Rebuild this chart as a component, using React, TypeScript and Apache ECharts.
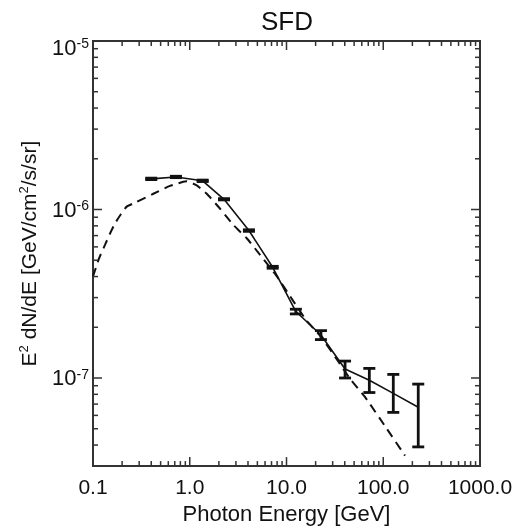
import React, { useEffect, useRef } from 'react';
import * as echarts from 'echarts';

// Measured data points (Photon Energy [GeV], E^2 dN/dE)
const energy = [0.40, 0.72, 1.36, 2.26, 4.09, 7.2, 12.5, 22.7, 40.3, 71.8, 127, 230];
const flux = [1.52e-6, 1.56e-6, 1.48e-6, 1.15e-6, 7.5e-7, 4.54e-7, 2.48e-7, 1.80e-7, 1.13e-7, 9.7e-8, 8.1e-8, 6.7e-8];
const fluxLo = [1.505e-6, 1.545e-6, 1.465e-6, 1.14e-6, 7.42e-7, 4.48e-7, 2.40e-7, 1.69e-7, 1.0e-7, 8.2e-8, 6.25e-8, 3.9e-8];
const fluxHi = [1.535e-6, 1.575e-6, 1.495e-6, 1.16e-6, 7.58e-7, 4.60e-7, 2.56e-7, 1.91e-7, 1.26e-7, 1.14e-7, 1.05e-7, 9.2e-8];

// Dashed model curve
const modelEnergy = [0.1, 0.115, 0.133, 0.15, 0.169, 0.195, 0.223, 0.283, 0.42, 0.625, 0.857, 0.93, 1.18, 1.5, 2.06, 2.82, 3.88, 5.33, 7.92, 11.76, 16.2, 22.7, 35.7, 45.3, 64.7, 108, 168];
const modelFlux = [4.0e-7, 5.1e-7, 6.16e-7, 7.2e-7, 8.28e-7, 9.4e-7, 1.04e-6, 1.11e-6, 1.24e-6, 1.38e-6, 1.46e-6, 1.47e-6, 1.39e-6, 1.24e-6, 1.01e-6, 8.1e-7, 6.75e-7, 5.38e-7, 4.02e-7, 2.86e-7, 2.18e-7, 1.76e-7, 1.21e-7, 9.9e-8, 7.72e-8, 5.03e-8, 3.46e-8];

// Axis ticks / labels
const xTickValues = [0.1, 1, 10, 100, 1000];
const xTickLabels = ['0.1', '1.0', '10.0', '100.0', '1000.0'];
const yTickValues = [1e-7, 1e-6, 1e-5];
const yTickExponents = ['-7', '-6', '-5'];

const X_MIN = 0.1;
const X_MAX = 1000;
const Y_MIN = 3e-8;
const Y_MAX = 1e-5;

const FONT = "'Liberation Sans', Arial, Helvetica, sans-serif";
const AXIS = '#333';
const INK = '#111';

function closeTo(a: number, b: number) {
  return Math.abs(Math.log10(a) - Math.log10(b)) < 1e-6;
}

export default function App() {
  const ref = useRef<HTMLDivElement>(null);

  useEffect(() => {
    if (!ref.current) return;
    const chart = echarts.init(ref.current, undefined, { renderer: 'svg' });

    const MAJOR = 9;
    const MINOR = 5;
    const xTicks: number[][] = [];
    for (let d = -1; d <= 2; d++) {
      if (d > -1) xTicks.push([Math.pow(10, d), Y_MIN, MAJOR]);
      for (let k = 2; k <= 9; k++) xTicks.push([k * Math.pow(10, d), Y_MIN, MINOR]);
    }
    const yTicks: number[][] = [];
    for (let d = -8; d <= -6; d++) {
      if (d > -8) yTicks.push([X_MIN, Math.pow(10, d), MAJOR]);
      for (let k = 2; k <= 9; k++) {
        const v = k * Math.pow(10, d);
        if (v > Y_MIN * 1.01) yTicks.push([X_MIN, v, MINOR]);
      }
    }

    const option: any = {
      animation: false,
      grid: { left: 93, top: 41, width: 387, height: 428, show: true, borderColor: AXIS, borderWidth: 2, backgroundColor: 'transparent' },
      graphic: [
        {
          type: 'text',
          x: 287,
          y: 21,
          style: { text: 'SFD', font: `26px ${FONT}`, fill: INK, textAlign: 'center', textVerticalAlign: 'middle' },
        },
      ],
      xAxis: {
        type: 'log',
        logBase: 10,
        min: X_MIN,
        max: X_MAX,
        splitLine: { show: false },
        axisLine: { show: false },
        axisTick: { show: false },
        axisLabel: {
          showMinLabel: true,
          showMaxLabel: true,
          margin: 10,
          color: INK,
          fontSize: 21,
          fontFamily: FONT,
          formatter: (v: number) => {
            const i = xTickValues.findIndex((t) => closeTo(t, v));
            return i >= 0 ? xTickLabels[i] : '';
          },
        },
        name: 'Photon Energy [GeV]',
        nameLocation: 'middle',
        nameGap: 32,
        nameTextStyle: { color: INK, fontSize: 22, fontFamily: FONT },
      },
      yAxis: {
        type: 'log',
        logBase: 10,
        min: Y_MIN,
        max: Y_MAX,
        splitLine: { show: false },
        axisLine: { show: false },
        axisTick: { show: false },
        axisLabel: {
          showMinLabel: true,
          showMaxLabel: true,
          margin: 4,
          color: INK,
          fontFamily: FONT,
          formatter: (v: number) => {
            const i = yTickValues.findIndex((t) => closeTo(t, v));
            if (i < 0) return '';
            if (i === yTickValues.length - 1) return `{gap| }\n{b|10}{s|${yTickExponents[i]}}`;
            return `{b|10}{s|${yTickExponents[i]}}`;
          },
          rich: {
            b: { fontSize: 22, lineHeight: 22, verticalAlign: 'bottom', color: INK, fontFamily: FONT },
            s: { fontSize: 14, lineHeight: 14, verticalAlign: 'top', color: INK, fontFamily: FONT },
            gap: { fontSize: 4, lineHeight: 12 },
          },
        },
        name: 'E{s|2} dN/dE [GeV/cm{s|2}/s/sr]',
        nameLocation: 'middle',
        nameGap: 54,
        nameTextStyle: {
          color: INK,
          fontSize: 21,
          fontFamily: FONT,
          lineHeight: 22,
          verticalAlign: 'bottom',
          rich: {
            s: { fontSize: 13, lineHeight: 13, verticalAlign: 'top', color: INK, fontFamily: FONT },
          },
        },
      },
      series: [
        {
          type: 'line',
          data: modelEnergy.map((e, i) => [e, modelFlux[i]]),
          showSymbol: false,
          smooth: 0.15,
          lineStyle: { color: INK, width: 2, type: [9, 6] },
          z: 2,
        },
        {
          type: 'line',
          data: energy.map((e, i) => [e, flux[i]]),
          showSymbol: false,
          lineStyle: { color: INK, width: 1.6 },
          z: 3,
        },
        {
          type: 'custom',
          data: energy.map((e, i) => [e, fluxLo[i], fluxHi[i]]),
          encode: { x: 0, y: [1, 2] },
          z: 4,
          renderItem: (params: any, api: any) => {
            const x = api.value(0);
            const lo = api.coord([x, api.value(1)]);
            const hi = api.coord([x, api.value(2)]);
            const w = 6;
            const st = { stroke: INK, lineWidth: 2.8 };
            return {
              type: 'group',
              children: [
                { type: 'line', shape: { x1: lo[0], y1: lo[1], x2: hi[0], y2: hi[1] }, style: st },
                { type: 'line', shape: { x1: lo[0] - w, y1: lo[1], x2: lo[0] + w, y2: lo[1] }, style: st },
                { type: 'line', shape: { x1: hi[0] - w, y1: hi[1], x2: hi[0] + w, y2: hi[1] }, style: st },
              ],
            };
          },
        },
        {
          type: 'custom',
          data: xTicks,
          encode: { x: 0, y: 1 },
          clip: false,
          silent: true,
          z: 5,
          renderItem: (params: any, api: any) => {
            const v = api.value(0);
            const len = api.value(2);
            const b = api.coord([v, Y_MIN]);
            const t = api.coord([v, Y_MAX]);
            const st = { stroke: AXIS, lineWidth: 1.5 };
            return {
              type: 'group',
              children: [
                { type: 'line', shape: { x1: b[0], y1: b[1], x2: b[0], y2: b[1] - len }, style: st },
                { type: 'line', shape: { x1: t[0], y1: t[1], x2: t[0], y2: t[1] + len }, style: st },
              ],
            };
          },
        },
        {
          type: 'custom',
          data: yTicks,
          encode: { x: 0, y: 1 },
          clip: false,
          silent: true,
          z: 5,
          renderItem: (params: any, api: any) => {
            const v = api.value(1);
            const len = api.value(2);
            const l = api.coord([X_MIN, v]);
            const r = api.coord([X_MAX, v]);
            const st = { stroke: AXIS, lineWidth: 1.5 };
            return {
              type: 'group',
              children: [
                { type: 'line', shape: { x1: l[0], y1: l[1], x2: l[0] + len, y2: l[1] }, style: st },
                { type: 'line', shape: { x1: r[0], y1: r[1], x2: r[0] - len, y2: r[1] }, style: st },
              ],
            };
          },
        },
      ],
    };

    chart.setOption(option);
    return () => chart.dispose();
  }, []);

  return <div ref={ref} style={{ position: 'fixed', left: 0, top: 0, width: 518, height: 529 }} />;
}
